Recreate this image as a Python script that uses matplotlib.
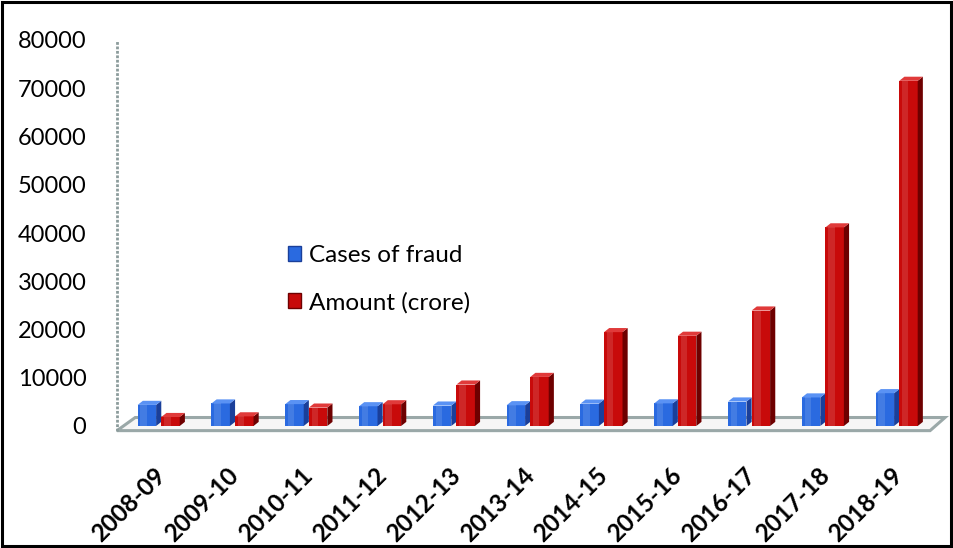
import matplotlib
matplotlib.use("Agg")
import matplotlib.pyplot as plt
from matplotlib.patches import Polygon, Rectangle, Patch
import numpy as np

years = ["2008-09", "2009-10", "2010-11", "2011-12", "2012-13", "2013-14",
         "2014-15", "2015-16", "2016-17", "2017-18", "2018-19"]
cases = [4372, 4669, 4534, 4093, 4235, 4306, 4639, 4693, 5076, 5916, 6801]
amount = [1860, 1998, 3815, 4501, 8590, 10170, 19455, 18699, 23934, 41167, 71543]
yticks = [0, 10000, 20000, 30000, 40000, 50000, 60000, 70000, 80000]

W, H = 954, 548
fig = plt.figure(figsize=(W / 100, H / 100), dpi=100)
ax_left, ax_right, ax_top, ax_bot = 117, 945, 40, 426
ax = fig.add_axes([ax_left / W, 1 - ax_bot / H, (ax_right - ax_left) / W, (ax_bot - ax_top) / H])
ax.set_xlim(-0.6, 10.62)
ax.set_ylim(0, 80000)
for s in ax.spines.values():
    s.set_visible(False)

# figure border
fig.patches.append(Rectangle((0.002, 0.003), 0.995, 0.994, transform=fig.transFigure,
                             fill=False, edgecolor="black", linewidth=2.2))

# floor (axes coords)
floor = Polygon([(0.0, -0.012), (0.982, -0.012), (1.0, 0.022), (0.022, 0.022)],
                closed=True, transform=ax.transAxes, facecolor="#f6f6f6",
                edgecolor="#9aa8a8", linewidth=2.2, clip_on=False, zorder=1)
ax.add_patch(floor)
# y axis line (dotted grey)
ax.plot([0, 0], [-0.012, 1.0], transform=ax.transAxes, color="#8c9c9c",
        linestyle=(0, (1, 0.6)), linewidth=2, clip_on=False, zorder=1)

x = np.arange(len(years))
bw = 0.32
dx = 0.07           # depth in x data units
dy = 850            # depth in y data units


def bar3d(xc, val, front, side, top, z):
    x0, x1 = xc - bw / 2, xc + bw / 2 - dx
    ax.add_patch(Rectangle((x0, 0), x1 - x0, val, facecolor=front, edgecolor="none", zorder=z))
    ax.add_patch(Polygon([(x1, 0), (x1 + dx, dy), (x1 + dx, val + dy), (x1, val)],
                         closed=True, facecolor=side, edgecolor="none", zorder=z))
    ax.add_patch(Polygon([(x0, val), (x1, val), (x1 + dx, val + dy), (x0 + dx, val + dy)],
                         closed=True, facecolor=top, edgecolor="none", zorder=z))
    # highlight strip
    ax.add_patch(Rectangle((x0 + (x1 - x0) * 0.15, 0), (x1 - x0) * 0.35, val,
                           facecolor="white", alpha=0.12, edgecolor="none", zorder=z))


for i in range(len(years)):
    bar3d(x[i] - bw / 2, cases[i], "#2a6ae0", "#1a3f9a", "#5a92f4", 3)
    bar3d(x[i] + bw / 2, amount[i], "#c80a0a", "#6e0000", "#e03a3a", 4)

ax.set_yticks(yticks)
ax.set_yticklabels([str(v) for v in yticks], fontsize=17, family="Lato")
ax.tick_params(axis="y", length=0, pad=22)
ax.set_xticks(x)
ax.set_xticklabels(years, rotation=45, ha="right", va="center", rotation_mode="anchor",
                   fontsize=17.5, fontweight="bold", family="Lato")
ax.tick_params(axis="x", length=0, pad=33)

handles = [Patch(facecolor="#2a6ae0", edgecolor="#1a3f9a"),
           Patch(facecolor="#c80a0a", edgecolor="#6e0000")]
leg = ax.legend(handles, ["Cases of fraud", "Amount (crore)"],
                loc="center left", bbox_to_anchor=(0.18, 0.38), frameon=False,
                prop={"family": "Lato", "size": 17.5}, handlelength=0.55,
                handleheight=0.55, handletextpad=0.3, labelspacing=1.05)

fig.savefig("out.png", dpi=100)
